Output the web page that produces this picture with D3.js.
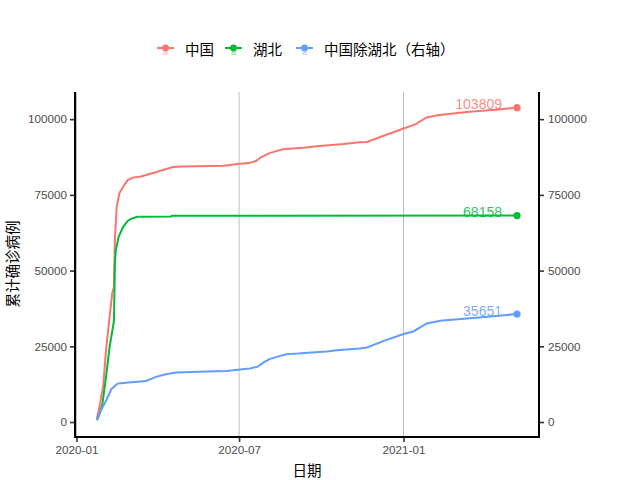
<!DOCTYPE html>
<html>
<meta charset="utf-8">
<title>累计确诊病例</title>
<style>
	body { margin: 0; background: #ffffff; }
	svg { font-family: "Liberation Sans", Arial, sans-serif; }
	.tick text { fill: #4d4d4d; font-size: 11.7px; }
	.cjk { font-family: "Noto Sans CJK SC", sans-serif; }
</style>
<body>
<div id="chart"></div>
<script src="https://d3js.org/d3.v7.min.js"></script>
<script>

	// Series: [date, cumulative cases]
	var seriesNames = ["中国", "湖北", "中国除湖北（右轴）"];
	var seriesColors = ["#F8766D", "#00BA38", "#619CFF"];

	var china = [
		["2020-01-24", 1300], ["2020-01-27", 5500], ["2020-01-31", 12000], ["2020-02-03", 23500],
		["2020-02-07", 34500], ["2020-02-10", 42500], ["2020-02-12", 44700], ["2020-02-13", 60000],
		["2020-02-15", 71000], ["2020-02-18", 75500], ["2020-02-22", 77600], ["2020-02-27", 79800],
		["2020-03-04", 80700], ["2020-03-13", 81100], ["2020-03-30", 82500], ["2020-04-03", 82900],
		["2020-04-18", 84200], ["2020-04-29", 84400], ["2020-06-13", 84660], ["2020-07-02", 85300],
		["2020-07-12", 85500], ["2020-07-20", 86200], ["2020-07-26", 87500], ["2020-08-04", 88800],
		["2020-08-19", 90060], ["2020-09-11", 90600], ["2020-09-29", 91150], ["2020-10-26", 91800],
		["2020-11-13", 92400], ["2020-11-21", 92500], ["2020-12-06", 94130], ["2021-01-01", 96900],
		["2021-01-14", 98300], ["2021-01-27", 100550], ["2021-02-08", 101300], ["2021-03-13", 102400],
		["2021-04-20", 103300], ["2021-05-08", 103809]
	];

	var hubei = [
		["2020-01-24", 750], ["2020-01-27", 2700], ["2020-01-30", 5860], ["2020-02-03", 14670],
		["2020-02-07", 24600], ["2020-02-12", 33440], ["2020-02-13", 52200], ["2020-02-14", 56600],
		["2020-02-17", 61000], ["2020-02-22", 64300], ["2020-02-27", 66300], ["2020-03-02", 67100],
		["2020-03-09", 67800], ["2020-04-16", 67900], ["2020-04-17", 68128], ["2021-05-08", 68158]
	];

	var chinaExHubei = [
		["2020-01-24", 550], ["2020-01-28", 3640], ["2020-02-03", 6950], ["2020-02-09", 10830],
		["2020-02-16", 12680], ["2020-02-25", 13000], ["2020-03-19", 13580], ["2020-03-30", 14900],
		["2020-04-10", 15800], ["2020-04-22", 16320], ["2020-05-25", 16650], ["2020-06-17", 16890],
		["2020-06-30", 17300], ["2020-07-13", 17650], ["2020-07-22", 18300], ["2020-07-28", 19630],
		["2020-08-04", 20760], ["2020-08-16", 21850], ["2020-08-23", 22400], ["2020-09-05", 22600],
		["2020-09-20", 22950], ["2020-10-07", 23280], ["2020-10-18", 23700], ["2020-10-29", 23940],
		["2020-11-13", 24270], ["2020-11-21", 24600], ["2020-12-10", 26800], ["2021-01-01", 29040],
		["2021-01-12", 29900], ["2021-01-27", 32550], ["2021-02-11", 33440], ["2021-03-06", 34000],
		["2021-04-05", 34770], ["2021-05-08", 35651]
	];

	var yTicks = [0, 25000, 50000, 75000, 100000];
	var xTicks = ["2020-01-01", "2020-07-01", "2021-01-01"];

	// Layout
	var W = 640, H = 480;
	var panel = { left: 76, right: 538, top: 92, bottom: 436 };

	var parse = d3.timeParse("%Y-%m-%d");
	var allSeries = [china, hubei, chinaExHubei].map(function (s) {
		return s.map(function (d) { return { date: parse(d[0]), value: d[1] }; });
	});

	var svg = d3.select("#chart").append("svg")
		.attr("width", W)
		.attr("height", H);

	// Scales with ggplot-style 5% expansion
	var allPts = [].concat.apply([], allSeries);
	var xExt = d3.extent(allPts, function (d) { return +d.date; });
	var xPad = (xExt[1] - xExt[0]) * 0.05;
	var x = d3.scaleTime()
		.domain([new Date(xExt[0] - xPad), new Date(xExt[1] + xPad)])
		.range([panel.left, panel.right]);

	var yExt = d3.extent(allPts, function (d) { return d.value; });
	var yPad = (yExt[1] - yExt[0]) * 0.05;
	var y = d3.scaleLinear()
		.domain([yExt[0] - yPad, yExt[1] + yPad])
		.range([panel.bottom, panel.top]);

	// Vertical grid lines at the major date breaks
	svg.append("g").selectAll("line")
		.data(xTicks.map(parse)).enter().append("line")
		.attr("x1", function (d) { return x(d); })
		.attr("x2", function (d) { return x(d); })
		.attr("y1", panel.top)
		.attr("y2", panel.bottom)
		.attr("stroke", "#bebebe")
		.attr("stroke-width", 1);

	// Lines
	var line = d3.line()
		.x(function (d) { return x(d.date); })
		.y(function (d) { return y(d.value); });

	allSeries.forEach(function (s, i) {
		svg.append("path")
			.datum(s)
			.attr("d", line)
			.attr("fill", "none")
			.attr("stroke", seriesColors[i])
			.attr("stroke-width", 2);

		var last = s[s.length - 1];
		svg.append("circle")
			.attr("cx", x(last.date))
			.attr("cy", y(last.value))
			.attr("r", 3.6)
			.attr("fill", seriesColors[i]);

		svg.append("text")
			.attr("x", x(last.date) - 15)
			.attr("y", y(last.value) + 1.5)
			.attr("text-anchor", "end")
			.attr("font-size", "14px")
			.attr("fill", seriesColors[i])
			.attr("fill-opacity", 0.85)
			.text(last.value);
	});

	// Axes
	var axisLeft = d3.axisLeft(y).tickValues(yTicks).tickFormat(d3.format("d")).tickSize(5).tickPadding(3);
	var axisRight = d3.axisRight(y).tickValues(yTicks).tickFormat(d3.format("d")).tickSize(5).tickPadding(4);
	var axisBottom = d3.axisBottom(x).tickValues(xTicks.map(parse))
		.tickFormat(d3.timeFormat("%Y-%m")).tickSize(5).tickPadding(4);

	function styleAxis(g) {
		g.select(".domain").remove();
		g.selectAll(".tick line").attr("stroke", "#333333").attr("stroke-width", 1.6);
	}

	svg.append("g").attr("transform", "translate(" + (panel.left - 1) + ",0)")
		.call(axisLeft).call(styleAxis);
	svg.append("g").attr("transform", "translate(" + (panel.right + 1) + ",0)")
		.call(axisRight).call(styleAxis);
	svg.append("g").attr("transform", "translate(0," + (panel.bottom + 1) + ")")
		.call(axisBottom).call(styleAxis);

	svg.selectAll(".tick text").attr("font-family", "'Liberation Sans', Arial, sans-serif");

	// Axis lines (left, right, bottom)
	svg.append("path")
		.attr("d", "M" + (panel.left - 1) + "," + panel.top + "V" + (panel.bottom + 1) +
			"H" + (panel.right + 1) + "V" + panel.top)
		.attr("fill", "none")
		.attr("stroke", "#000000")
		.attr("stroke-width", 2);

	// Axis titles
	svg.append("text")
		.attr("class", "cjk")
		.attr("x", (panel.left + panel.right) / 2)
		.attr("y", 476)
		.attr("text-anchor", "middle")
		.attr("font-size", "14.5px")
		.attr("fill", "#000")
		.text("日期");

	svg.append("text")
		.attr("class", "cjk")
		.attr("transform", "translate(18," + ((panel.top + panel.bottom) / 2) + ") rotate(-90)")
		.attr("text-anchor", "middle")
		.attr("font-size", "14.5px")
		.attr("fill", "#000")
		.text("累计确诊病例");

	// Legend on top
	var legendX = [157, 225, 296];
	var legendY = 49;
	var legend = svg.append("g");
	seriesNames.forEach(function (name, i) {
		var g = legend.append("g").attr("transform", "translate(" + legendX[i] + "," + legendY + ")");
		g.append("text")
			.attr("x", 8.5).attr("y", 6)
			.attr("text-anchor", "middle")
			.attr("font-size", "9px")
			.attr("fill", seriesColors[i])
			.attr("fill-opacity", 0.6)
			.text("a");
		g.append("line")
			.attr("x1", 0).attr("x2", 17)
			.attr("y1", -1).attr("y2", -1)
			.attr("stroke", seriesColors[i])
			.attr("stroke-width", 2);
		g.append("circle")
			.attr("cx", 8.5).attr("cy", -1).attr("r", 3.4)
			.attr("fill", seriesColors[i]);
		g.append("text")
			.attr("class", "cjk")
			.attr("x", 28).attr("y", 5.5)
			.attr("font-size", "14.5px")
			.attr("fill", "#000")
			.text(name);
	});

</script>
</body>
</html>
